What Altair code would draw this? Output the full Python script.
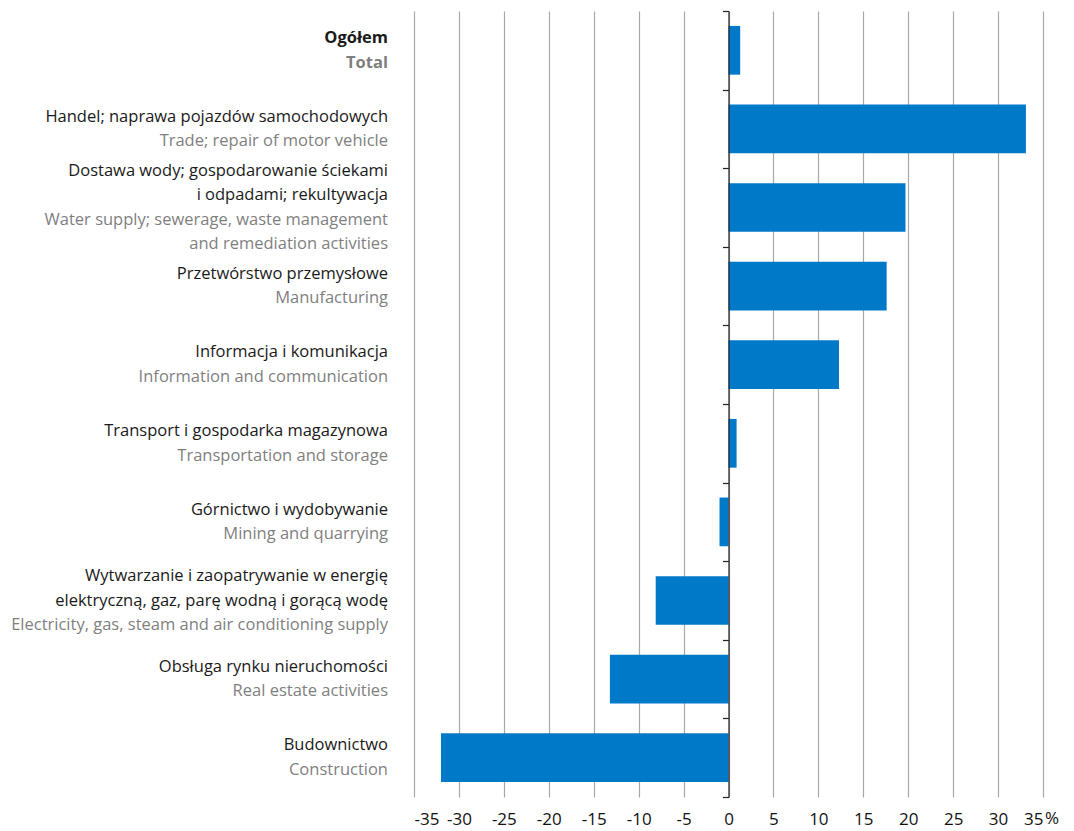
import altair as alt
import pandas as pd

# Sector names (Polish / English), drawn top to bottom
labels_pl = [
    ["Ogółem"],
    ["Handel; naprawa pojazdów samochodowych"],
    ["Dostawa wody; gospodarowanie ściekami", "i odpadami; rekultywacja"],
    ["Przetwórstwo przemysłowe"],
    ["Informacja i komunikacja"],
    ["Transport i gospodarka magazynowa"],
    ["Górnictwo i wydobywanie"],
    ["Wytwarzanie i zaopatrywanie w energię", "elektryczną, gaz, parę wodną i gorącą wodę"],
    ["Obsługa rynku nieruchomości"],
    ["Budownictwo"],
]
labels_en = [
    ["Total"],
    ["Trade; repair of motor vehicle"],
    ["Water supply; sewerage, waste management", "and remediation activities"],
    ["Manufacturing"],
    ["Information and communication"],
    ["Transportation and storage"],
    ["Mining and quarrying"],
    ["Electricity, gas, steam and air conditioning supply"],
    ["Real estate activities"],
    ["Construction"],
]
# Change in %
values = [1.3, 33.1, 19.7, 17.6, 12.3, 0.9, -1.0, -8.1, -13.2, -32.0]
x_ticks = list(range(-35, 40, 5))

W, H = 629, 786
N = len(labels_pl)
STEP = H / N
LINE = 24.5           # label line spacing in pixels
FONT = "Open Sans"

keys = [pl[0] for pl in labels_pl]
bars = pd.DataFrame({"cat": keys, "value": values})

# One row per label line; "pos" is in row units (row i spans i..i+1),
# each block of lines centred on its row.
rows = []
for i, (pl, en) in enumerate(zip(labels_pl, labels_en)):
    lines = [(t, "pl") for t in pl] + [(t, "en") for t in en]
    n = len(lines)
    for j, (t, kind) in enumerate(lines):
        rows.append({
            "text": t,
            "kind": kind,
            "bold": i == 0,
            "pos": i + 0.5 + (j - (n - 1) / 2) * LINE / STEP,
        })
text_df = pd.DataFrame(rows)
# Row boundaries carry the ticks of the zero axis
bounds = pd.DataFrame({"pos": list(range(N + 1))})

x_scale = alt.Scale(domain=[-35, 35], nice=False, zero=False)
row_scale = alt.Scale(domain=[0, N], range=[0, H], nice=False, zero=False)
# Zero axis: vertical line at x = 0 with short ticks between the rows
row_axis = alt.Axis(orient="left", offset=-W / 2, values=list(range(N + 1)),
                    labels=False, grid=False, title=None,
                    domainColor="#222222", tickColor="#222222", tickSize=6,
                    zindex=1, domainWidth=1.2, tickWidth=1.2)

bar_layer = alt.Chart(bars).mark_bar(color="#0079C9").encode(
    x=alt.X("value:Q", scale=x_scale, title=None,
            axis=alt.Axis(values=x_ticks, grid=True, gridColor="#a8a8a8",
                          gridWidth=1.2, domain=False, ticks=False,
                          labelFontSize=17, labelFont=FONT, labelColor="#111111",
                          labelPadding=14, labelOverlap=False,
                          labelExpr="'' + datum.value")),
    x2=alt.datum(0),
    y=alt.Y("cat:N", sort=keys, title=None, axis=None,
            scale=alt.Scale(domain=keys, paddingInner=0.38, paddingOuter=0.19)),
)

zero_axis = alt.Chart(bounds).mark_point(opacity=0).encode(
    x=alt.datum(0, scale=x_scale),
    y=alt.Y("pos:Q", scale=row_scale, title=None, axis=row_axis),
)


def label_layer(bold):
    return alt.Chart(text_df).transform_filter(
        "datum.bold" if bold else "!datum.bold"
    ).mark_text(
        align="right", baseline="middle", font=FONT, fontSize=16.5,
        fontWeight="bold" if bold else "normal",
    ).encode(
        x=alt.value(-26),
        y=alt.Y("pos:Q", scale=row_scale, title=None, axis=row_axis),
        text="text:N",
        color=alt.Color("kind:N", legend=None,
                        scale=alt.Scale(domain=["pl", "en"],
                                        range=["#1a1a1a", "#7f7f7f"])),
    )


pct = alt.Chart(pd.DataFrame({"t": ["%"]})).mark_text(
    align="left", baseline="top", font=FONT, fontSize=17, color="#111111", dx=2
).encode(x=alt.datum(35, scale=x_scale), y=alt.value(H + 14), text="t:N")

rows_layer = alt.layer(zero_axis, label_layer(False), label_layer(True))

chart = alt.layer(bar_layer, rows_layer, pct).resolve_scale(
    y="independent"
).properties(
    width=W, height=H,
    autosize=alt.AutoSizeParams(type="none"),
    padding={"left": 414, "top": 11, "right": 31, "bottom": 34},
).configure_view(stroke=None)

chart.save("out.html", embed_options={"renderer": "svg", "actions": False})
